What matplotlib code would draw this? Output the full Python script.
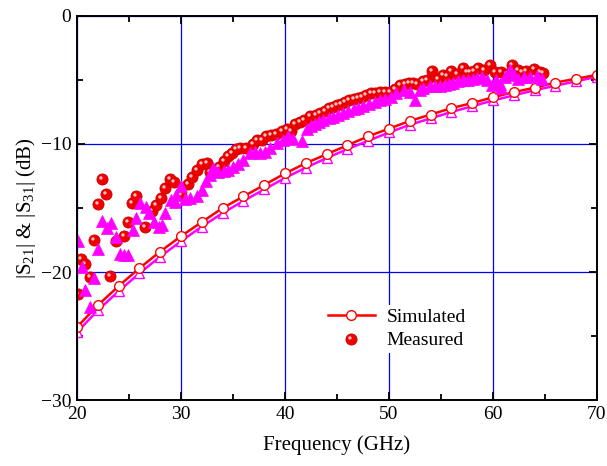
import numpy as np
import matplotlib
matplotlib.use('Agg')
import matplotlib.pyplot as plt
from matplotlib.path import Path
from matplotlib.lines import Line2D
from matplotlib.legend_handler import HandlerTuple

plt.rcParams['font.family'] = ['Liberation Serif', 'DejaVu Serif']
plt.rcParams['mathtext.fontset'] = 'custom'
plt.rcParams['mathtext.rm'] = 'Liberation Serif'
plt.rcParams['mathtext.it'] = 'Liberation Serif:italic'

# ---------------- datos simulados ----------------
f_sim = [20, 22, 24, 26, 28, 30, 32, 34, 36, 38, 40, 42, 44, 46, 48,
         50, 52, 54, 56, 58, 60, 62, 64, 66, 68, 70]
s21_sim = [-24.3, -22.6, -21.1, -19.7, -18.4, -17.2, -16.1, -15.0, -14.1, -13.2,
           -12.3, -11.5, -10.8, -10.1, -9.4, -8.8, -8.2, -7.7, -7.2, -6.8,
           -6.35, -5.95, -5.6, -5.2, -4.9, -4.6]
s31_sim = [-24.7, -23.0, -21.5, -20.1, -18.8, -17.6, -16.45, -15.4, -14.45, -13.55,
           -12.65, -11.85, -11.1, -10.4, -9.75, -9.1, -8.5, -8.0, -7.5, -7.05,
           -6.6, -6.2, -5.8, -5.45, -5.1, -4.75]

# ---------------- datos medidos ----------------
f_s21_med = [20.1, 20.4, 20.8, 21.2, 21.6, 22.0, 22.4, 22.8, 23.2, 23.7, 24.5, 24.9,
             25.3, 25.7, 26.5, 27.2, 27.6, 28.1, 28.5, 28.9, 29.3, 30.0, 30.7, 31.1,
             31.5, 32.0, 32.5, 32.8, 33.7, 34.1, 34.5, 34.9, 35.3, 35.7, 36.25, 36.9,
             37.3, 37.8, 38.2, 38.7, 39.1, 39.7, 40.2, 40.6, 41.0, 41.4, 41.8, 42.4,
             43.0, 43.4, 43.8, 44.2, 44.6, 45.0, 45.4, 45.8, 46.2, 46.6, 47.0, 47.4,
             47.8, 48.3, 48.7, 49.1, 49.6, 50.1, 50.6, 51.1, 51.5, 51.9, 52.3, 52.7,
             53.3, 53.7, 54.1, 54.7, 55.2, 55.6, 56.0, 56.5, 57.1, 57.5, 57.8, 58.2,
             58.6, 59.1, 59.7, 60.2, 60.8, 61.3, 61.8, 62.4, 62.8, 63.2, 63.9, 64.5,
             64.8]
s21_med = [-21.7, -19.0, -19.4, -20.4, -17.5, -14.7, -12.7, -13.9, -20.3, -17.6, -17.2, -16.1,
           -14.6, -14.1, -16.5, -15.2, -14.8, -14.2, -13.4, -12.7, -13.0, -14.0, -13.1, -12.55,
           -12.0, -11.6, -11.5, -12.2, -11.8, -11.3, -10.9, -10.7, -10.4, -10.3, -10.3, -10.0,
           -9.7, -9.7, -9.4, -9.3, -9.2, -9.0, -8.85, -9.0, -8.4, -8.25, -8.1, -7.8,
           -7.7, -7.55, -7.4, -7.2, -7.1, -6.95, -6.85, -6.7, -6.6, -6.5, -6.4, -6.3,
           -6.2, -6.05, -6.0, -5.9, -5.95, -5.9, -5.7, -5.4, -5.3, -5.2, -5.25, -5.3,
           -5.1, -5.0, -4.3, -4.95, -4.6, -4.7, -4.3, -4.5, -4.1, -4.4, -4.35, -4.3,
           -4.1, -4.2, -3.8, -4.4, -4.35, -4.5, -3.8, -4.2, -4.4, -4.3, -4.15, -4.35,
           -4.45]

f_s31_med = [20.1, 20.5, 20.8, 21.2, 21.6, 22.0, 22.4, 22.9, 23.3, 23.7, 24.1, 24.5,
             24.9, 25.4, 25.7, 26.1, 26.6, 26.9, 27.4, 27.9, 28.2, 28.5, 29.0, 29.4,
             29.5, 30.0, 30.4, 30.9, 31.5, 32.0, 32.4, 32.8, 33.1, 33.6, 34.1, 34.5,
             35.0, 35.5, 36.0, 36.6, 37.1, 37.6, 38.1, 38.6, 39.2, 39.8, 40.3, 40.8,
             41.6, 42.1, 42.5, 42.9, 43.3, 43.7, 44.2, 44.65, 45.1, 45.6, 46.1, 46.6,
             47.0, 47.5, 48.1, 48.65, 49.1, 49.6, 50.2, 50.7, 51.4, 52.0, 52.5, 53.0,
             53.3, 53.9, 54.4, 54.9, 55.4, 55.8, 56.2, 56.6, 57.1, 57.6, 58.1, 58.5,
             58.9, 59.4, 59.9, 60.3, 60.7, 60.8, 61.2, 61.6, 62.0, 62.4, 63.0, 63.6,
             64.2, 64.7]
s31_med = [-17.6, -19.6, -21.4, -22.7, -20.5, -18.2, -16.0, -16.6, -16.2, -17.3, -18.6, -18.7,
           -18.7, -16.7, -15.8, -14.6, -14.9, -15.4, -16.1, -16.5, -16.3, -15.4, -14.4, -14.5,
           -14.0, -13.3, -14.3, -14.2, -14.1, -13.6, -12.9, -12.4, -11.9, -12.2, -12.1, -12.0,
           -11.8, -11.6, -11.25, -10.7, -10.6, -10.7, -10.6, -10.3, -9.95, -9.7, -9.4, -9.6,
           -9.8, -8.8, -8.6, -8.4, -8.25, -8.1, -8.0, -7.9, -7.75, -7.6, -7.45, -7.3,
           -7.15, -7.0, -6.85, -6.7, -6.6, -6.5, -6.3, -6.05, -5.8, -5.9, -6.6, -5.8,
           -5.65, -5.5, -5.5, -5.45, -5.4, -5.3, -5.25, -5.1, -5.0, -5.0, -4.9, -4.85,
           -4.75, -5.0, -5.4, -5.0, -5.3, -5.6, -4.8, -4.2, -4.6, -4.9, -4.8, -4.75,
           -4.7, -4.9]

# marcador de brillo para las esferas (circulo pequeño desplazado arriba-izquierda)
t = np.linspace(0, 2 * np.pi, 30)
verts = list(zip(-0.28 + 0.3 * np.cos(t), 0.28 + 0.3 * np.sin(t)))
codes = [Path.MOVETO] + [Path.LINETO] * (len(verts) - 2) + [Path.CLOSEPOLY]
verts += [(1, 1), (-1, -1)]
codes += [Path.MOVETO, Path.MOVETO]
brillo = Path(verts, codes)

fig = plt.figure(figsize=(6.07, 4.66), dpi=100)
ax = fig.add_axes([0.1269, 0.1416, 0.8566, 0.8241])

ax.plot(f_sim, s31_sim, color='#ff00ff', lw=1.8, marker='^', ms=6.5,
        mfc='white', mec='#ff00ff', mew=1.0, zorder=3)
ax.plot(f_sim, s21_sim, color='red', lw=1.8, marker='o', ms=7,
        mfc='white', mec='red', mew=1.0, zorder=4)

ax.plot(f_s21_med, s21_med, ls='none', marker='o', ms=8, mfc='#f00000',
        mec='#d00000', mew=0.6, zorder=5)
ax.plot(f_s21_med, s21_med, ls='none', marker=brillo, ms=8, mfc='#ffc4c4',
        mec='none', zorder=5)
ax.plot(f_s31_med, s31_med, ls='none', marker='^', ms=8.5, mfc='#ff00ff',
        mec='#ff00ff', mew=0.5, zorder=6)

ax.set_xlim(20, 70)
ax.set_ylim(-30, 0)
ax.set_xticks([20, 30, 40, 50, 60, 70])
ax.set_yticks([-30, -20, -10, 0])
ax.set_xticks([25, 35, 45, 55, 65], minor=True)
ax.set_yticks([-25, -15, -5], minor=True)
ax.grid(which='major', color='blue', lw=0.9)
ax.set_axisbelow(True)
ax.tick_params(which='both', direction='in', top=True, right=True, width=1.3,
               labelsize=14, pad=4)
ax.tick_params(which='major', length=6)
ax.tick_params(which='minor', length=4)
for s in ax.spines.values():
    s.set_linewidth(1.4)
    s.set_zorder(10)

ax.set_xlabel('Frequency (GHz)', fontsize=15, labelpad=9)
ax.set_ylabel(r'|S$_{\mathrm{21}}$| & |S$_{\mathrm{31}}$| (dB)', fontsize=15, labelpad=2)

h_sim = Line2D([], [], color='red', lw=1.8, marker='o', ms=7, mfc='white', mec='red')
h_med = (Line2D([], [], ls='none', marker='o', ms=8, mfc='#f00000', mec='#d00000', mew=0.6),
         Line2D([], [], ls='none', marker=brillo, ms=8, mfc='#ffc4c4', mec='none'))
leg = ax.legend([h_sim, h_med], ['Simulated', 'Measured'], loc='center',
                bbox_to_anchor=(0.615, 0.185), fontsize=14, frameon=True,
                framealpha=1, facecolor='white', edgecolor='none', handlelength=2.4,
                handletextpad=0.6, labelspacing=0.3, borderpad=0.2,
                handler_map={tuple: HandlerTuple(ndivide=1)})
leg.set_zorder(20)

plt.savefig('out.png', dpi=100)
plt.close('all')
